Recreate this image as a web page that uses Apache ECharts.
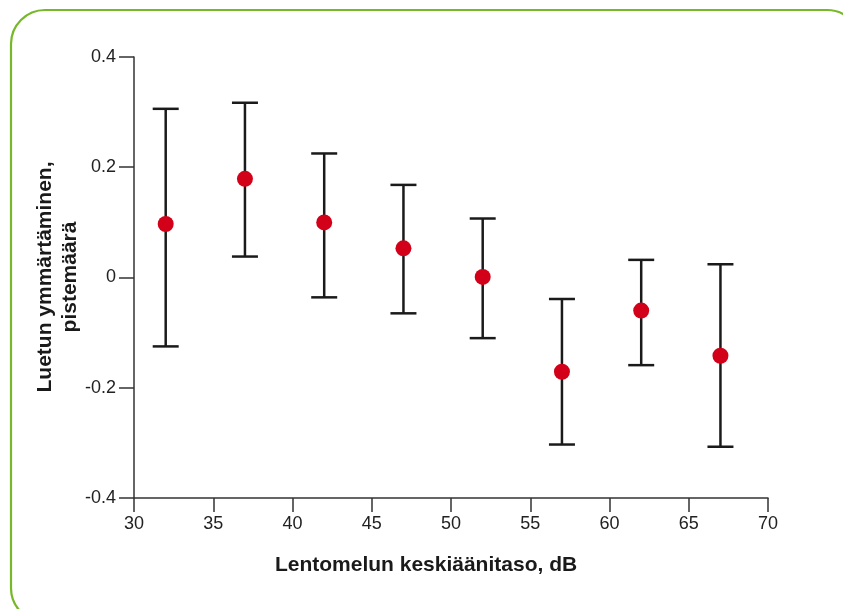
<!DOCTYPE html>
<html>
<head>
<meta charset="utf-8">
<script src="https://cdn.jsdelivr.net/npm/echarts@6/dist/echarts.min.js"></script>
<style>
html,body{margin:0;padding:0;background:#fff;}
#chart{width:843px;height:609px;}
</style>
</head>
<body>
<div id="chart"></div>
<script>
const noiseLevels = [32, 37, 42, 47, 52, 57, 62, 67];
const means = [0.097, 0.179, 0.100, 0.053, 0.001, -0.171, -0.060, -0.142];
const lowers = [-0.125, 0.038, -0.036, -0.065, -0.110, -0.303, -0.159, -0.307];
const uppers = [0.306, 0.317, 0.225, 0.168, 0.107, -0.039, 0.032, 0.024];
const xTitle = 'Lentomelun keskiäänitaso, dB';
const yTitle = 'Luetun ymmärtäminen,\npistemäärä';

const chart = echarts.init(document.getElementById('chart'));
const font = '"Liberation Sans", Arial, Helvetica, sans-serif';

const errData = noiseLevels.map((x, i) => [x, lowers[i], uppers[i]]);
const dotData = noiseLevels.map((x, i) => [x, means[i]]);

chart.setOption({
  animation: false,
  backgroundColor: '#ffffff',
  grid: {left: 134, right: 75, top: 57, bottom: 111, containLabel: false},
  xAxis: {
    type: 'value', min: 30, max: 70, interval: 5,
    axisLine: {show: true, onZero: false, lineStyle: {color: '#333', width: 1.5}},
    axisTick: {show: true, inside: false, length: 14, lineStyle: {color: '#333', width: 1.5}},
    axisLabel: {color: '#222', fontSize: 18, fontFamily: font, margin: 17},
    splitLine: {show: false}
  },
  yAxis: {
    type: 'value', min: -0.4, max: 0.4, interval: 0.2,
    axisLine: {show: true, onZero: false, lineStyle: {color: '#333', width: 1.5}},
    axisTick: {show: true, inside: false, length: 15, lineStyle: {color: '#333', width: 1.5}},
    axisLabel: {color: '#222', fontSize: 18, fontFamily: font, margin: 18,
      formatter: v => (Math.abs(v) < 1e-9 ? '0' : String(Math.round(v * 10) / 10))},
    splitLine: {show: false}
  },
  graphic: [
    {type: 'rect', z: -1, silent: true,
      shape: {x: 11, y: 10, width: 850, height: 612, r: 34},
      style: {fill: 'none', stroke: '#76b82a', lineWidth: 2.2}},
    {type: 'text', x: 426, y: 565, silent: true,
      style: {text: xTitle, fill: '#1a1a1a', font: 'bold 21px ' + font,
        textAlign: 'center', textVerticalAlign: 'middle'}},
    {type: 'text', x: 58, y: 277, rotation: Math.PI / 2, silent: true,
      style: {text: yTitle, fill: '#1a1a1a', font: 'bold 21px ' + font,
        textAlign: 'center', textVerticalAlign: 'middle', lineHeight: 25}}
  ],
  series: [
    {
      type: 'custom',
      data: errData,
      z: 2,
      renderItem: function (params, api) {
        const x = api.value(0);
        const lo = api.coord([x, api.value(1)]);
        const hi = api.coord([x, api.value(2)]);
        const hw = 13;
        const st = {stroke: '#1a1a1a', lineWidth: 2.5, fill: null};
        return {
          type: 'group',
          children: [
            {type: 'line', shape: {x1: hi[0], y1: hi[1], x2: lo[0], y2: lo[1]}, style: st},
            {type: 'line', shape: {x1: hi[0] - hw, y1: hi[1], x2: hi[0] + hw, y2: hi[1]}, style: st},
            {type: 'line', shape: {x1: lo[0] - hw, y1: lo[1], x2: lo[0] + hw, y2: lo[1]}, style: st}
          ]
        };
      }
    },
    {
      type: 'scatter',
      data: dotData,
      symbol: 'circle',
      symbolSize: 16,
      z: 3,
      itemStyle: {color: '#d20019', opacity: 1}
    }
  ]
});
</script>
</body>
</html>
